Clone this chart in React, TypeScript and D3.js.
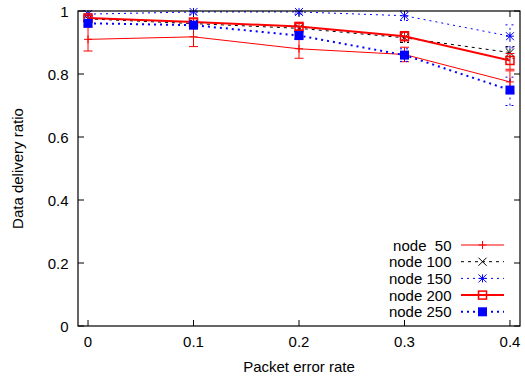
import React from "react";
import * as d3 from "d3";

const xValues = [0, 0.1, 0.2, 0.3, 0.4];
const xTicks = [0, 0.1, 0.2, 0.3, 0.4];
const yTicks = [0, 0.2, 0.4, 0.6, 0.8, 1];

const seriesNames = ["node  50", "node 100", "node 150", "node 200", "node 250"];

const node50 = [0.91, 0.918, 0.88, 0.862, 0.775];
const node50Lo = [0.873, 0.887, 0.85, 0.839, 0.74];
const node50Hi = [0.949, 0.948, 0.912, 0.885, 0.81];

const node100 = [0.975, 0.96, 0.945, 0.915, 0.868];
const node100Lo = [0.965, 0.95, 0.935, 0.9, 0.85];
const node100Hi = [0.985, 0.97, 0.955, 0.93, 0.887];

const node150 = [0.99, 0.997, 0.997, 0.985, 0.92];
const node150Lo = [0.98, 0.99, 0.99, 0.97, 0.883];
const node150Hi = [1.0, 1.0, 1.0, 1.0, 0.956];

const node200 = [0.978, 0.965, 0.951, 0.92, 0.843];
const node200Lo = [0.97, 0.955, 0.94, 0.905, 0.815];
const node200Hi = [0.985, 0.975, 0.96, 0.935, 0.865];

const node250 = [0.961, 0.955, 0.922, 0.86, 0.749];
const node250Lo = [0.955, 0.945, 0.91, 0.84, 0.7];
const node250Hi = [0.967, 0.965, 0.935, 0.88, 0.79];

type Style = { color: string; width: number; dash: string | undefined; marker: string };

const styles: Style[] = [
  { color: "#ff0000", width: 1, dash: undefined, marker: "plus" },
  { color: "#000000", width: 1, dash: "3,4", marker: "cross" },
  { color: "#0000ff", width: 1, dash: "2,4", marker: "star" },
  { color: "#ff0000", width: 2, dash: undefined, marker: "box" },
  { color: "#0000ff", width: 2, dash: "2,4", marker: "boxfill" },
];

const values = [node50, node100, node150, node200, node250];
const lows = [node50Lo, node100Lo, node150Lo, node200Lo, node250Lo];
const highs = [node50Hi, node100Hi, node150Hi, node200Hi, node250Hi];

const W = 525;
const H = 379;
const left = 78;
const right = 520;
const top = 11;
const bottom = 326;
const FS = 15;

function Marker({ kind, x, y, color }: { kind: string; x: number; y: number; color: string }) {
  const s = 4;
  if (kind === "plus")
    return (
      <path d={`M${x - s},${y}H${x + s}M${x},${y - s}V${y + s}`} stroke={color} strokeWidth={1} fill="none" />
    );
  if (kind === "cross")
    return (
      <path d={`M${x - s},${y - s}L${x + s},${y + s}M${x - s},${y + s}L${x + s},${y - s}`} stroke={color} strokeWidth={1} fill="none" />
    );
  if (kind === "star")
    return (
      <path
        d={`M${x - s},${y}H${x + s}M${x},${y - s}V${y + s}M${x - s},${y - s}L${x + s},${y + s}M${x - s},${y + s}L${x + s},${y - s}`}
        stroke={color}
        strokeWidth={1}
        fill="none"
      />
    );
  if (kind === "box")
    return <rect x={x - 4} y={y - 4} width={8} height={8} stroke={color} strokeWidth={1.5} fill="none" />;
  return <rect x={x - 4.5} y={y - 4.5} width={9} height={9} fill={color} />;
}

export default function App() {
  const x = d3.scaleLinear().domain([-0.0095, 0.4095]).range([left, right]);
  const y = d3.scaleLinear().domain([0, 1]).range([bottom, top]);
  const line = d3
    .line<number>()
    .x((_, i) => x(xValues[i]))
    .y((d) => y(d));

  const font = "'Liberation Sans', Arial, sans-serif";
  const legendTop = 245;
  const legendStep = 16.7;

  return (
    <svg width={W} height={H} style={{ position: "absolute", left: 0, top: 0 }} fontFamily={font}>
      <rect width={W} height={H} fill="#fff" />
      {/* ticks, mirrored on all sides */}
      {yTicks.map((t) => (
        <g key={"y" + t}>
          <line x1={left} x2={left + 6} y1={y(t)} y2={y(t)} stroke="#000" />
          <line x1={right} x2={right - 6} y1={y(t)} y2={y(t)} stroke="#000" />
          <text x={68.5} y={y(t) + 5.5} textAnchor="end" fontSize={FS} fill="#000">
            {d3.format("")(t)}
          </text>
        </g>
      ))}
      {xTicks.map((t) => (
        <g key={"x" + t}>
          <line x1={x(t)} x2={x(t)} y1={bottom} y2={bottom - 6} stroke="#000" />
          <line x1={x(t)} x2={x(t)} y1={top} y2={top + 6} stroke="#000" />
          <text x={x(t)} y={346.5} textAnchor="middle" fontSize={FS} fill="#000">
            {d3.format("")(t)}
          </text>
        </g>
      ))}
      <text x={(left + right) / 2} y={371.5} textAnchor="middle" fontSize={FS} fill="#000">
        Packet error rate
      </text>
      <text
        transform={`translate(23,${(top + bottom) / 2}) rotate(-90)`}
        textAnchor="middle"
        fontSize={FS}
        fill="#000"
      >
        Data delivery ratio
      </text>

      {/* series */}
      {values.map((vals, si) => {
        const st = styles[si];
        return (
          <g key={si}>
            <path d={line(vals) || ""} fill="none" stroke={st.color} strokeWidth={st.width} strokeDasharray={st.dash} />
            {vals.map((v, i) => {
              const cx = x(xValues[i]);
              const lo = y(lows[si][i]);
              const hi = y(highs[si][i]);
              return (
                <g key={i}>
                  <path
                    d={`M${cx},${lo}V${hi}M${cx - 4.5},${lo}H${cx + 4.5}M${cx - 4.5},${hi}H${cx + 4.5}`}
                    stroke={st.color}
                    strokeWidth={1}
                    strokeDasharray={st.dash}
                    fill="none"
                  />
                  <Marker kind={st.marker} x={cx} y={y(v)} color={st.color} />
                </g>
              );
            })}
          </g>
        );
      })}

      {/* legend */}
      {seriesNames.map((name, si) => {
        const st = styles[si];
        const ly = legendTop + si * legendStep;
        return (
          <g key={"l" + si}>
            <rect x={380} y={ly - 8} width={130} height={16} fill="#fff" />
            <text x={451.5} y={ly + 5.5} textAnchor="end" fontSize={FS} fill="#000" style={{ whiteSpace: "pre" }}>
              {name}
            </text>
            <line x1={461} x2={504} y1={ly} y2={ly} stroke={st.color} strokeWidth={st.width} strokeDasharray={st.dash} />
            <Marker kind={st.marker} x={482.5} y={ly} color={st.color} />
          </g>
        );
      })}

      <rect x={left} y={top} width={right - left} height={bottom - top} fill="none" stroke="#000" strokeWidth={1.2} />
    </svg>
  );
}
